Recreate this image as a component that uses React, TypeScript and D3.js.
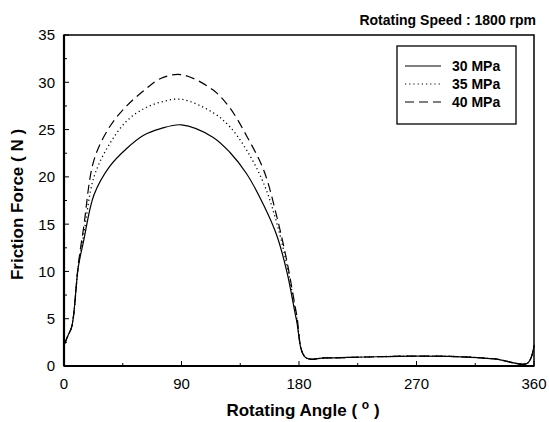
import React from 'react';
import * as d3 from 'd3';

// rotating angle (deg)
const angles = [0, 3, 6, 11, 15, 23, 35, 48, 61, 74, 90, 114, 127, 140, 153, 163, 171, 178, 185, 200, 230, 268, 300, 330, 355, 360];
// friction force (N) for each pressure
const f30 = [2.2, 3.2, 4.2, 10.5, 13.2, 18.1, 21.1, 23.0, 24.4, 25.1, 25.5, 24.2, 22.6, 20.3, 17.0, 13.8, 9.8, 4.9, 0.9, 0.85, 0.95, 1.05, 1.0, 0.75, 0.3, 2.2];
const f35 = [2.2, 3.2, 4.2, 10.6, 13.8, 20.0, 23.5, 25.9, 27.2, 27.9, 28.2, 26.8, 25.3, 22.8, 19.3, 15.1, 10.5, 5.3, 0.9, 0.85, 0.95, 1.05, 1.0, 0.75, 0.3, 2.2];
const f40 = [2.2, 3.2, 4.2, 10.8, 14.6, 21.8, 25.3, 27.5, 29.1, 30.4, 30.8, 29.2, 27.3, 24.3, 20.7, 15.8, 10.9, 5.6, 0.9, 0.85, 0.95, 1.05, 1.0, 0.75, 0.3, 2.2];

const seriesNames = ['30 MPa', '35 MPa', '40 MPa'];
const xTicks = [0, 90, 180, 270, 360];
const yTicks = [0, 5, 10, 15, 20, 25, 30, 35];

const W = 549;
const H = 422;
const m = { left: 64, right: 534, top: 35, bottom: 366 };
const font = '"Liberation Sans", Arial, sans-serif';

export default function App() {
  const x = d3.scaleLinear().domain([0, 360]).range([m.left, m.right]);
  const y = d3.scaleLinear().domain([0, 35]).range([m.bottom, m.top]);

  const line = d3
    .line<number>()
    .x((_, i) => x(angles[i]))
    .y((d) => y(d))
    .curve(d3.curveCatmullRom.alpha(0.5));

  const dashes = [null, '1.2,3', '9,5'];
  const data = [f30, f35, f40];

  const yMinor = d3.range(0, 35.01, 2.5);
  const xMinor = d3.range(0, 360.01, 45);

  return (
    <svg width={W} height={H} style={{ position: 'absolute', left: 0, top: 0, background: '#fff' }}>
      {/* series */}
      {data.map((d, i) => (
        <path
          key={i}
          d={line(d) || ''}
          fill="none"
          stroke="#000"
          strokeWidth={i === 1 ? 1.3 : 1.2}
          strokeDasharray={dashes[i] || undefined}
        />
      ))}

      {/* frame */}
      <rect x={m.left} y={m.top} width={m.right - m.left} height={m.bottom - m.top} fill="none" stroke="#000" strokeWidth={1.5} />
      <line x1={m.left} x2={m.left} y1={m.top} y2={m.bottom} stroke="#000" strokeWidth={2.2} />
      <line x1={m.left} x2={m.right} y1={m.bottom} y2={m.bottom} stroke="#000" strokeWidth={2} />

      {/* y ticks */}
      {yMinor.map((v) => (
        <line key={'ym' + v} x1={m.left} x2={m.left + (v % 5 === 0 ? 5 : 3)} y1={y(v)} y2={y(v)} stroke="#000" strokeWidth={1} />
      ))}
      {yTicks.map((v) => (
        <text key={'yt' + v} x={m.left - 9} y={y(v)} dy="0.36em" textAnchor="end" fontFamily={font} fontSize={15}>
          {v}
        </text>
      ))}

      {/* x ticks */}
      {xMinor.map((v) => (
        <line key={'xm' + v} x1={x(v)} x2={x(v)} y1={m.bottom} y2={m.bottom - (v % 90 === 0 ? 5 : 3)} stroke="#000" strokeWidth={1} />
      ))}
      {xTicks.map((v) => (
        <text key={'xt' + v} x={x(v)} y={m.bottom + 23} textAnchor="middle" fontFamily={font} fontSize={15}>
          {v}
        </text>
      ))}

      {/* axis titles */}
      <text x={303} y={416} textAnchor="middle" fontFamily={font} fontSize={17} fontWeight="bold">
        Rotating Angle ({' '}
        <tspan fontSize={12} dy={-7}>o</tspan>
        <tspan dy={7}> )</tspan>
      </text>
      <text
        transform={`translate(23,${(m.top + m.bottom) / 2 + 4}) rotate(-90)`}
        textAnchor="middle"
        fontFamily={font}
        fontSize={17}
        fontWeight="bold"
      >
        Friction Force ( N )
      </text>

      {/* title */}
      <text x={536} y={25} textAnchor="end" fontFamily={font} fontSize={14} fontWeight="bold">
        Rotating Speed : 1800 rpm
      </text>

      {/* legend */}
      <rect x={397} y={46} width={119} height={78} fill="#fff" stroke="#000" strokeWidth={1.3} />
      {seriesNames.map((name, i) => (
        <g key={name} transform={`translate(0,${66 + i * 18})`}>
          <line x1={405} x2={441} y1={0} y2={0} stroke="#000" strokeWidth={1.2} strokeDasharray={dashes[i] || undefined} />
          <text x={452} y={0} dy="0.36em" fontFamily={font} fontSize={14} fontWeight="bold">
            {name}
          </text>
        </g>
      ))}
    </svg>
  );
}
